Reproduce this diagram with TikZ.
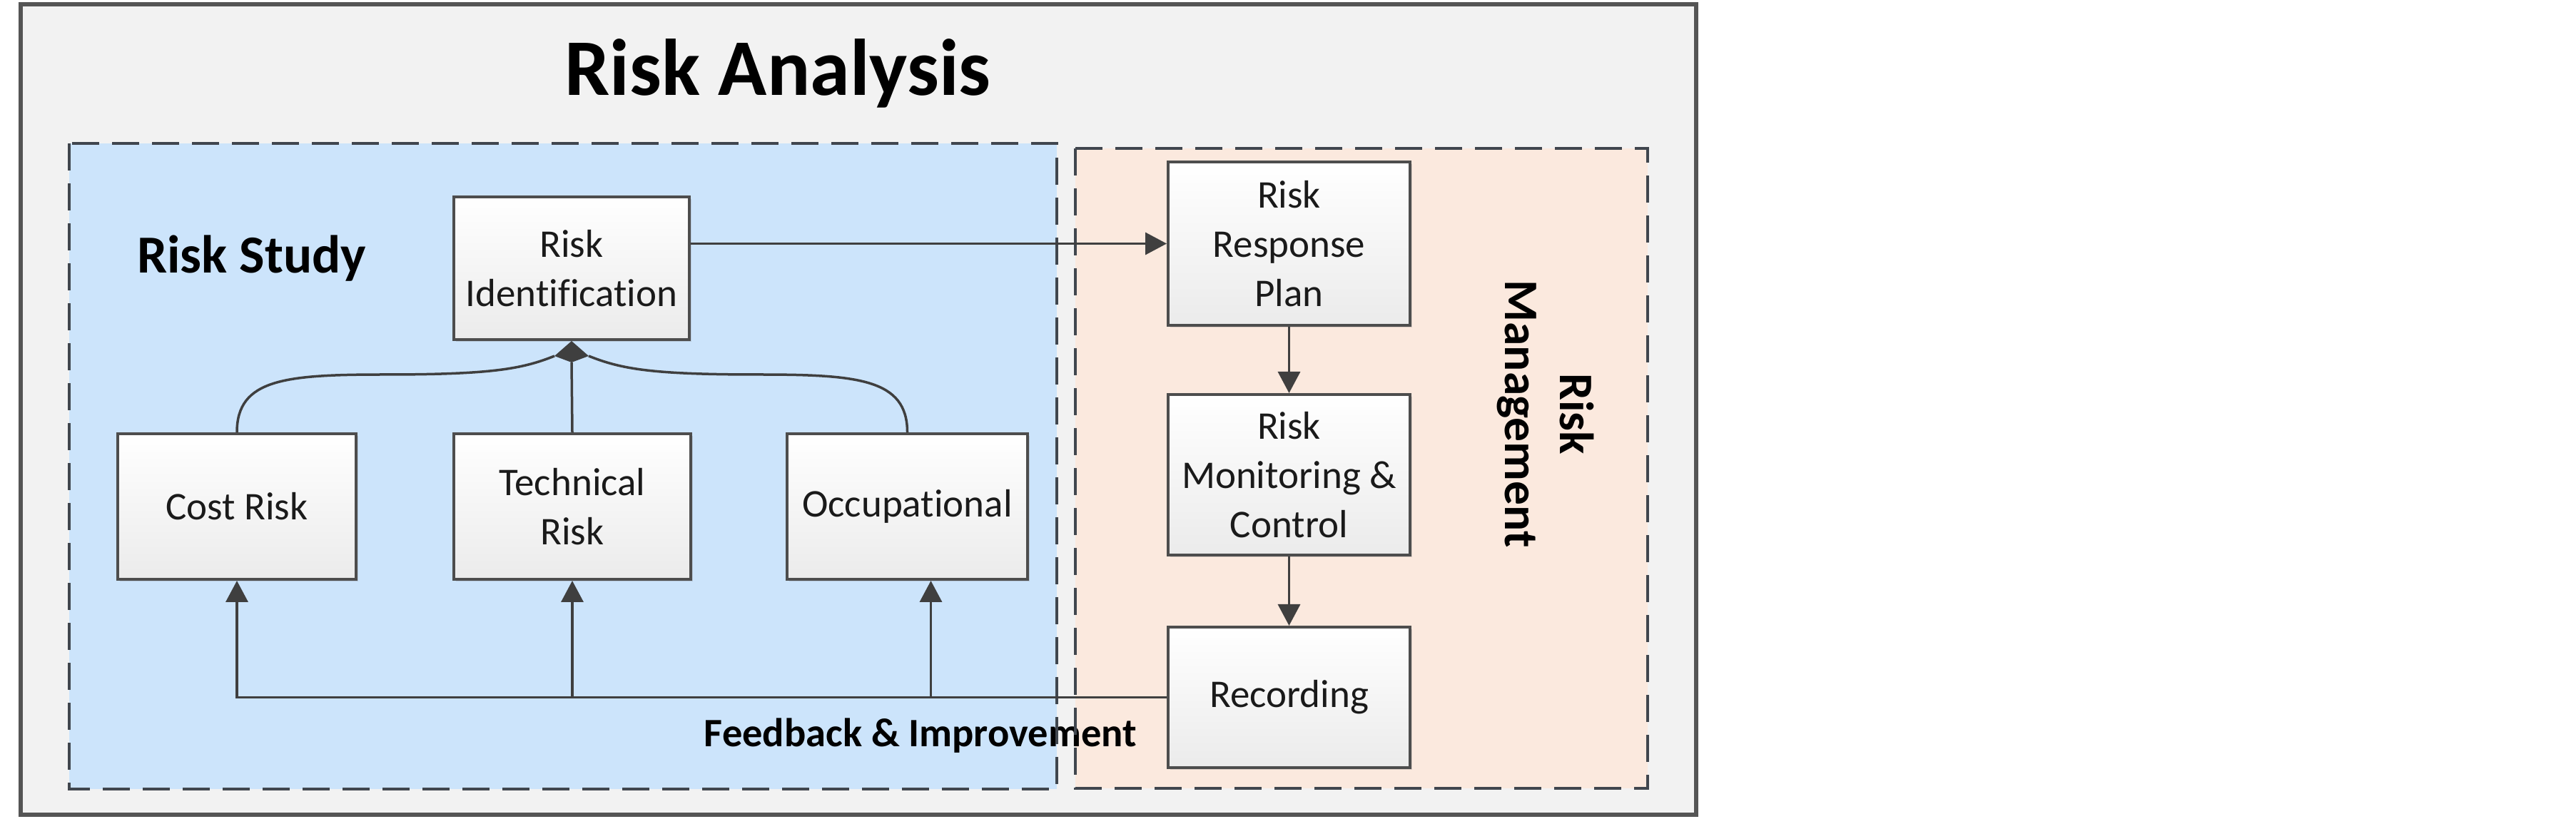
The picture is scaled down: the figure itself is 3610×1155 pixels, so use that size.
\documentclass[tikz,border=0pt]{standalone}
\usepackage{fontspec}
\setmainfont{Carlito}[Ligatures=NoCommon]
\usetikzlibrary{arrows.meta,calc,shadows}
\definecolor{framefill}{HTML}{F2F2F2}
\definecolor{frameline}{HTML}{555555}
\definecolor{bluefill}{HTML}{CCE4FB}
\definecolor{orangefill}{HTML}{FBE9DE}
\definecolor{dashline}{HTML}{40464E}
\definecolor{boxline}{HTML}{4D4D4D}
\definecolor{boxbot}{HTML}{EBEBEB}
\definecolor{connc}{HTML}{3F3F3F}
\definecolor{txt}{HTML}{1A1A1A}
\begin{document}
\begin{tikzpicture}[x=0.2pt,y=-0.2pt,
  region/.style={draw=dashline, line width=0.9pt, dash pattern=on 7.6pt off 3.6pt},
  box/.style={draw=boxline, line width=0.8pt, top color=white, bottom color=boxbot,
    inner sep=0pt, align=center, text=txt, font=\fontsize{11}{13.8}\selectfont,
    drop shadow={shadow xshift=0.6pt, shadow yshift=-0.6pt, opacity=0.25}},
  conn/.style={draw=connc, line width=0.7pt},
  arr/.style={conn, -{Triangle[length=6pt,width=6.2pt]}},
  ]
\useasboundingbox (0,0) rectangle (3610,1155);
\fill[white] (0,0) rectangle (3610,1155);
\draw[draw=frameline, fill=framefill, line width=1.1pt] (29,6) rectangle (2377,1142);
\fill[bluefill] (97,201) rectangle (1481,1106);
\fill[orangefill] (1507,208) rectangle (2309,1105);

% texts
\node[font=\bfseries\fontsize{22.5}{27}\selectfont, anchor=base, text=black, inner sep=0pt] (title) at (1090,134) {Risk Analysis};
\node[font=\bfseries\fontsize{15}{18}\selectfont, anchor=base west, text=black, inner sep=0pt] (rs) at (191,383) {Risk Study};
\node[font=\bfseries\fontsize{13.5}{15.4}\selectfont, align=center, rotate=-90, text=black, inner sep=0pt] (rm) at (2166,580) {Risk\\Management};
\node[font=\bfseries\fontsize{11.3}{13}\selectfont, anchor=base, text=black, inner sep=0pt] (fb) at (1290,1047) {Feedback \& Improvement};

% region borders
\draw[region] (97,201) rectangle (1481,1106);
\draw[region] (1507,208) rectangle (2309,1105);

% boxes
\node[box, minimum width=66pt, minimum height=40pt] (RI) at (801,376) {\raisebox{1pt}{\parbox{60pt}{\centering Risk\\Identification}}};
\node[box, minimum width=66.8pt, minimum height=40.8pt] (Cost) at (332,710) {Cost Risk};
\node[box, minimum width=66.4pt, minimum height=40.8pt] (Tech) at (802,710) {Technical\\Risk};
\node[box, minimum width=67.4pt, minimum height=40.8pt] (Occ) at (1271.5,710) {Occupational};
\node[box, minimum width=67.8pt, minimum height=45.8pt] (RRP) at (1806.5,341.5) {Risk\\Response\\Plan};
\node[box, minimum width=67.8pt, minimum height=45pt] (RMC) at (1806.5,665.5) {Risk\\Monitoring \&\\Control};
\node[box, minimum width=67.8pt, minimum height=39.4pt] (Rec) at (1806.5,977.5) {Recording};

% connectors
\draw[arr] (RI.east |- RRP.west) -- (RRP.west);
\draw[arr] (RRP.south) -- (RMC.north);
\draw[arr] (RMC.south) -- (Rec.north);
\draw[arr] (Rec.west) -| (Cost.south);
\draw[arr] (Tech.south |- Rec.west) -- (Tech.south);
\coordinate (occin) at ($(Occ.south)+(33,0)$);
\draw[arr] (occin |- Rec.west) -- (occin);

% aggregation into Risk Identification
\coordinate (dl) at ($(RI.south)+(-24,21)$);
\coordinate (dr) at ($(RI.south)+(24,21)$);
\coordinate (db) at ($(RI.south)+(0,30)$);
\draw[conn] (Tech.north) -- (db);
\draw[conn] (Cost.north) .. controls +(0,-75) and +(-140,0) .. (540,525) .. controls +(150,0) and +(-45,18) .. (dl);
\draw[conn] (Occ.north) .. controls +(0,-75) and +(140,0) .. (1062,525) .. controls +(-150,0) and +(45,18) .. (dr);
\fill[connc] (RI.south) -- (dl) -- (db) -- (dr) -- cycle;
\end{tikzpicture}
\end{document}
